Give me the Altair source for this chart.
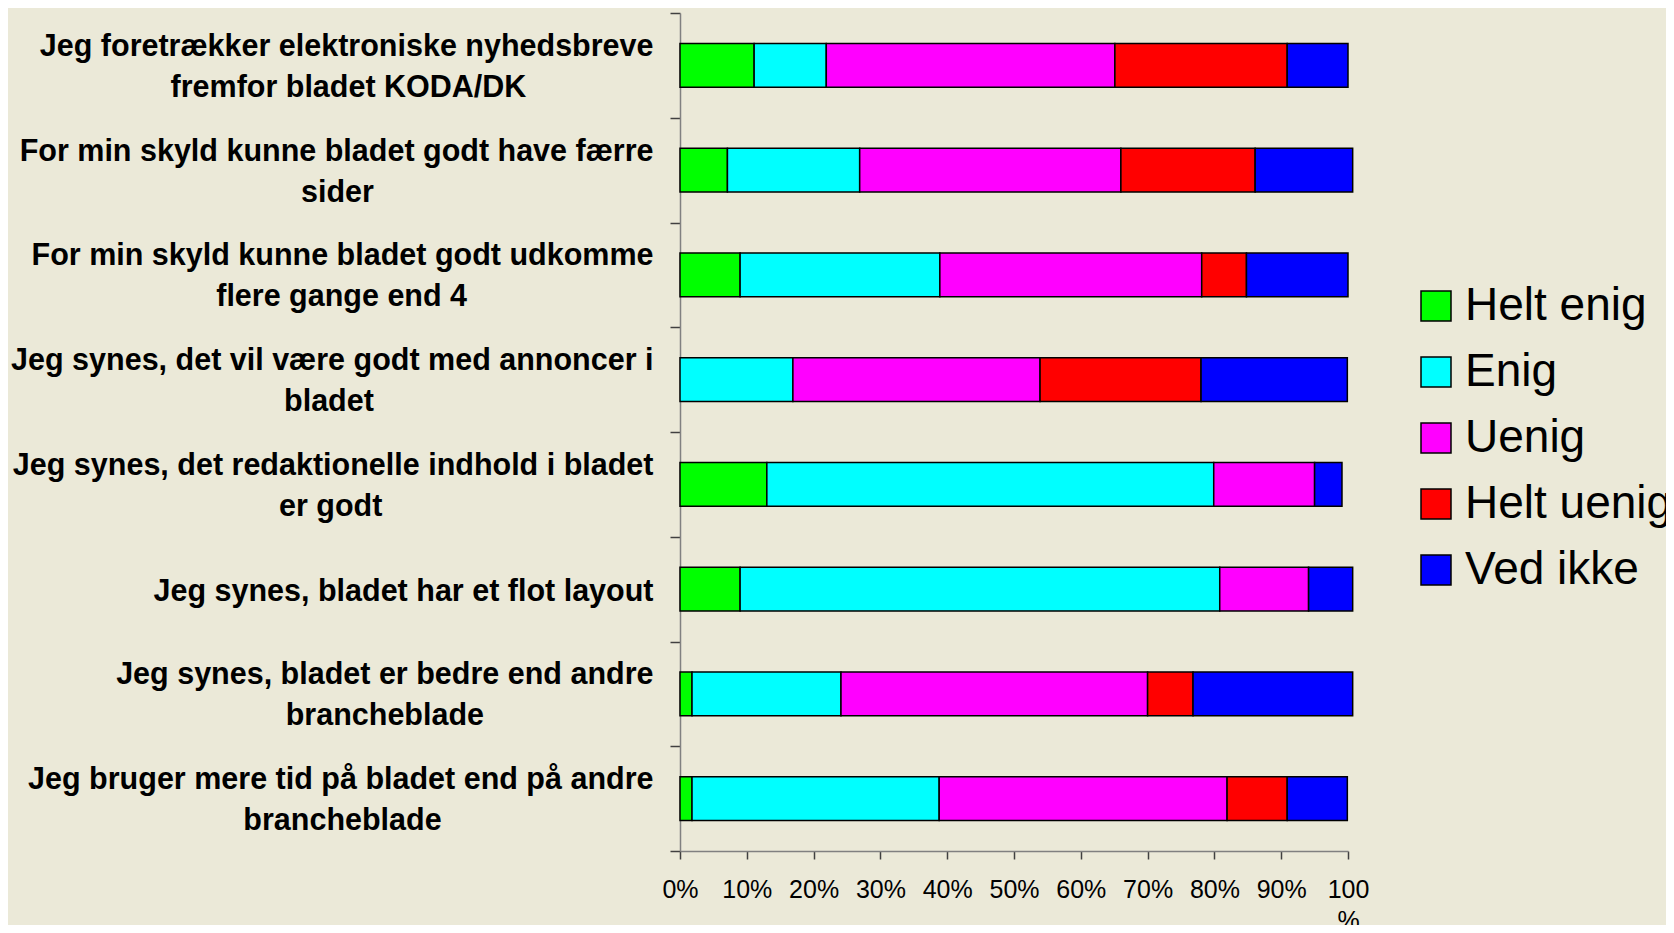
import altair as alt
import pandas as pd

# ---- data ----
categories = [
    "Jeg foretrækker elektroniske nyhedsbreve|fremfor bladet KODA/DK",
    "For min skyld kunne bladet godt have færre|sider",
    "For min skyld kunne bladet godt udkomme|flere gange end 4",
    "Jeg synes, det vil være godt med annoncer i|bladet",
    "Jeg synes, det redaktionelle indhold i bladet|er godt",
    "Jeg synes, bladet har et flot layout",
    "Jeg synes, bladet er bedre end andre|brancheblade",
    "Jeg bruger mere tid på bladet end på andre|brancheblade",
]
series_names = ["Helt enig", "Enig", "Uenig", "Helt uenig", "Ved ikke"]
helt_enig = [11.1, 7.1, 9.0, 0.0, 13.0, 9.0, 1.8, 1.8]
enig = [10.8, 19.8, 29.9, 16.9, 66.9, 71.8, 22.3, 37.0]
uenig = [43.2, 39.1, 39.2, 37.0, 15.1, 13.3, 45.9, 43.1]
helt_uenig = [25.8, 20.1, 6.7, 24.1, 0.0, 0.0, 6.8, 9.0]
ved_ikke = [9.1, 14.6, 15.2, 21.9, 4.1, 6.6, 23.9, 9.0]
series_colors = ["#00FF00", "#00FFFF", "#FF00FF", "#FF0000", "#0000FF"]
x_ticks = [0, 10, 20, 30, 40, 50, 60, 70, 80, 90, 100]

# approximate bold glyph advance widths (per 1000 em) used to centre the
# second line of each label under the first (labels are right-aligned)
W = {c: 556 for c in "acekqsvxyå4J"}
W.update({c: 611 for c in "bdghnopquøF"})
W.update({"f": 333, "t": 333, "i": 278, "j": 278, "l": 278, "r": 389,
          "m": 889, "w": 778, "z": 500, "æ": 889, " ": 278, ",": 278,
          "/": 278, "K": 722, "O": 778, "D": 722, "A": 722})


def text_width(s):
    return sum(W.get(ch, 556) for ch in s)


def display_label(cat):
    lines = cat.split("|")
    if len(lines) == 1:
        return cat
    w1, w2 = text_width(lines[0]), text_width(lines[1])
    pad = max(0, round((w1 - w2) / 2 / 278))
    # non-breaking spaces closed by an invisible word joiner so they are kept
    return lines[0] + "|" + lines[1] + "\u00a0" * pad + "\u2060"


labels = [display_label(c) for c in categories]
series_values = [helt_enig, enig, uenig, helt_uenig, ved_ikke]

rows = []
for si, (name, vals) in enumerate(zip(series_names, series_values)):
    for ci, v in enumerate(vals):
        if v > 0:
            rows.append({"label": labels[ci], "series": name, "order": si, "value": v})
df = pd.DataFrame(rows)

font = "Liberation Sans, Arial, sans-serif"

chart = alt.Chart(df).mark_bar(
    stroke="black", strokeWidth=1.5, height={"band": 0.416}
).encode(
    x=alt.X(
        "value:Q",
        stack="zero",
        scale=alt.Scale(domain=[0, 100], nice=False, clamp=False),
        axis=alt.Axis(
            values=x_ticks,
            title=None,
            grid=False,
            labelExpr="datum.value == 100 ? ['100', '%'] : datum.value + '%'",
            labelFont=font,
            labelFontSize=25,
            labelColor="black",
            labelLineHeight=31,
            labelPadding=18,
            labelFlush=False,
            labelOverlap=False,
            tickSize=8,
            tickColor="#404040",
            tickWidth=1.5,
            domainColor="#808080",
            domainWidth=1.5,
        ),
    ),
    y=alt.Y(
        "label:N",
        sort=labels,
        scale=alt.Scale(paddingInner=0, paddingOuter=0),
        axis=alt.Axis(
            title=None,
            labelExpr="split(datum.label, '|')",
            labelFont=font,
            labelFontSize=30.5,
            labelFontWeight="bold",
            labelColor="black",
            labelLineHeight=41,
            labelPadding=17,
            labelLimit=900,
            labelOffset=2,
            labelBaseline={
                "condition": {
                    "test": "isString(datum.value) && test(/[|]/, datum.value)",
                    "value": "line-bottom",
                },
                "value": "middle",
            },
            tickSize=10,
            tickBand="extent",
            tickColor="#404040",
            tickWidth=1.5,
            domainColor="#808080",
            domainWidth=1.5,
        ),
    ),
    color=alt.Color(
        "series:N",
        sort=series_names,
        scale=alt.Scale(domain=series_names, range=series_colors),
        legend=alt.Legend(
            title=None,
            orient="none",
            legendX=733,
            legendY=270,
            padding=0,
            symbolType="square",
            symbolSize=900,
            symbolStrokeColor="black",
            symbolStrokeWidth=1.5,
            labelFont=font,
            labelFontSize=46,
            labelColor="black",
            labelLimit=500,
            labelOffset=6,
            rowPadding=20,
        ),
    ),
    order=alt.Order("order:Q"),
).properties(
    width=668,
    height=838,
    autosize=alt.AutoSizeParams(type="none"),
    padding={"left": 672, "top": 5, "right": 318, "bottom": 74},
    background="#EBE9D8",
).configure_view(stroke=None)

chart.save("out.html", embed_options={"renderer": "svg", "actions": False})
